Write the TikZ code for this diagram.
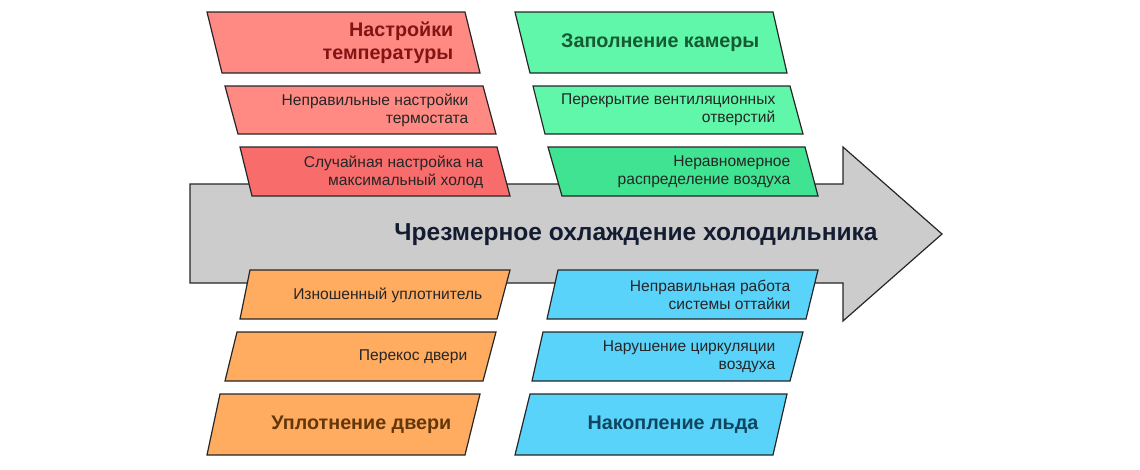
\documentclass[tikz,border=0pt]{standalone}
\usepackage{fontspec}
\setmainfont{Liberation Sans}
\begin{document}
\begin{tikzpicture}[x=0.75pt,y=-0.75pt,
  pg/.style={draw=black!85,line width=0.9pt},
  small/.style={anchor=east,align=right,font=\fontsize{11.7}{13.5}\selectfont,text=black!85},
  big/.style={anchor=east,align=right,font=\bfseries\fontsize{14.8}{17}\selectfont}]
\useasboundingbox (0,0) rectangle (1140,469);
\definecolor{red1}{HTML}{FF8A84}
\definecolor{red2}{HTML}{F86C6C}
\definecolor{grn1}{HTML}{60F7AA}
\definecolor{grn2}{HTML}{3FE391}
\definecolor{org}{HTML}{FFAC60}
\definecolor{blu}{HTML}{5AD3FB}
\definecolor{arr}{HTML}{CCCCCC}
% arrow
\draw[pg,fill=arr] (190,184) -- (843,184) -- (843,147) -- (942,234) -- (843,321) -- (843,283) -- (190,283) -- cycle;
\node[font=\bfseries\fontsize{18.4}{21}\selectfont,text={rgb,255:red,20;green,28;blue,50}] (main) at (636,235) {Чрезмерное охлаждение холодильника};
% top left
\draw[pg,fill=red1] (207,12) -- (465,12) -- (480,73) -- (222,73) -- cycle;
\node[big,text={rgb,255:red,130;green,20;blue,20}] (t1) at (458,43) {Настройки\\температуры};
\draw[pg,fill=red1] (225,86) -- (483,86) -- (496,134) -- (238,134) -- cycle;
\node[small] (t2) at (473,110) {Неправильные настройки\\термостата};
\draw[pg,fill=red2] (240,147) -- (497,147) -- (510,196) -- (252,196) -- cycle;
\node[small] (t3) at (488,172) {Случайная настройка на\\максимальный холод};
% top right
\draw[pg,fill=grn1] (515,12) -- (773,12) -- (787,73) -- (530,73) -- cycle;
\node[big,text={rgb,255:red,20;green,90;blue,50}] (g1) at (764,43) {Заполнение камеры};
\draw[pg,fill=grn1] (533,86) -- (790,86) -- (803,134) -- (545,134) -- cycle;
\node[small] (g2) at (780,110) {Перекрытие вентиляционных\\отверстий};
\draw[pg,fill=grn2] (548,147) -- (805,147) -- (818,196) -- (562,196) -- cycle;
\node[small] (g3) at (795,172) {Неравномерное\\распределение воздуха};
% bottom left
\draw[pg,fill=org] (250,270) -- (510,270) -- (497,319) -- (240,319) -- cycle;
\node[small] (o1) at (487,295) {Изношенный уплотнитель};
\draw[pg,fill=org] (237,332) -- (496,332) -- (483,381) -- (225,381) -- cycle;
\node[small] (o2) at (472,357) {Перекос двери};
\draw[pg,fill=org] (220,394) -- (480,394) -- (465,455) -- (207,455) -- cycle;
\node[big,text={rgb,255:red,100;green,55;blue,10}] (o3) at (456,425) {Уплотнение двери};
% bottom right
\draw[pg,fill=blu] (558,270) -- (818,270) -- (806,319) -- (547,319) -- cycle;
\node[small] (b1) at (795,295) {Неправильная работа\\системы оттайки};
\draw[pg,fill=blu] (543,332) -- (803,332) -- (790,381) -- (532,381) -- cycle;
\node[small] (b2) at (780,357) {Нарушение циркуляции\\воздуха};
\draw[pg,fill=blu] (530,394) -- (787,394) -- (773,455) -- (515,455) -- cycle;
\node[big,text={rgb,255:red,15;green,70;blue,95}] (b3) at (763,425) {Накопление льда};
\end{tikzpicture}
\end{document}
